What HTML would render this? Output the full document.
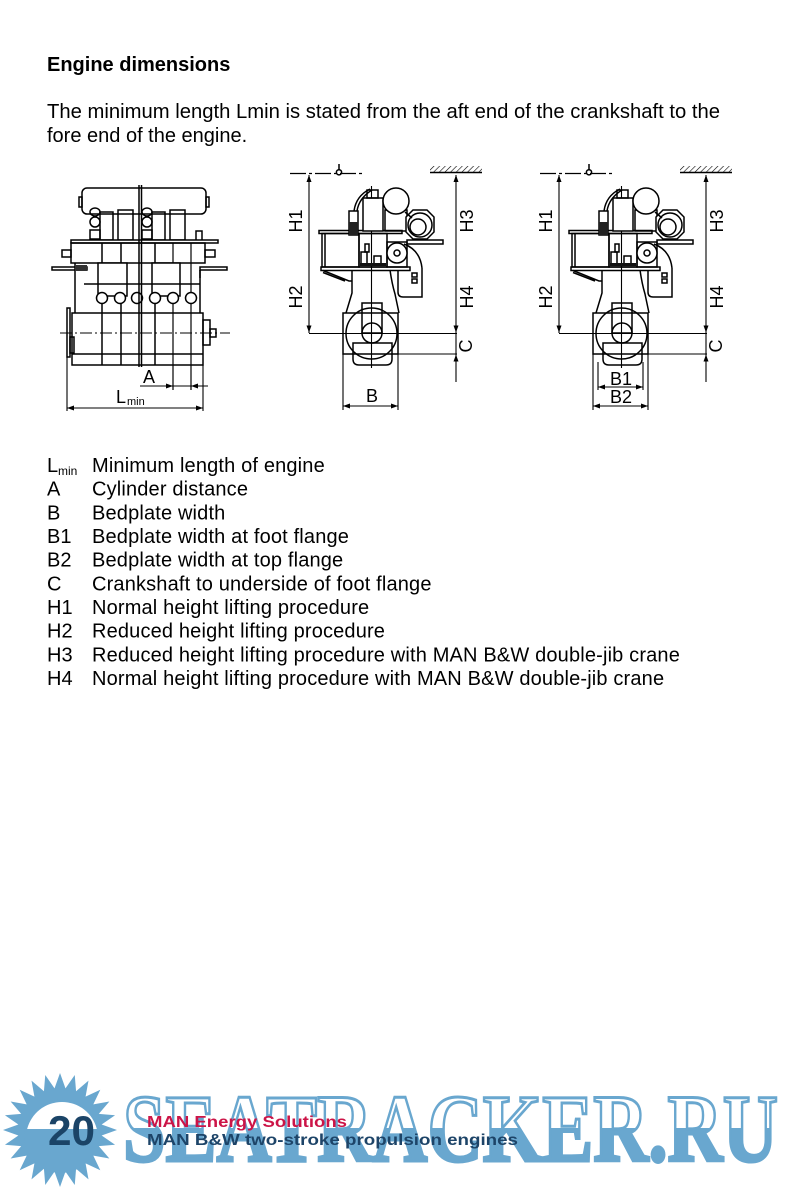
<!DOCTYPE html>
<html>
<head>
<meta charset="utf-8">
<style>
html,body{margin:0;padding:0;background:#fff;}
body{width:788px;height:1189px;overflow:hidden;position:relative;}
svg{position:absolute;left:0;top:0;}
text{font-family:"Liberation Sans",Arial,sans-serif;}
</style>
</head>
<body>
<svg width="788" height="1189" viewBox="0 0 788 1189" xmlns="http://www.w3.org/2000/svg">
<defs>
  <pattern id="hatch" width="4" height="4" patternUnits="userSpaceOnUse" patternTransform="rotate(45)">
    <line x1="0" y1="0" x2="0" y2="4" stroke="#000" stroke-width="1.2"/>
  </pattern>
  <linearGradient id="wm" gradientUnits="userSpaceOnUse" x1="0" y1="1095" x2="0" y2="1162">
    <stop offset="0.49" stop-color="#ffffff"/>
    <stop offset="0.49" stop-color="#69a7cf"/>
  </linearGradient>
  <g id="eng">
    <g fill="none" stroke="#000" stroke-width="1.5">
      <line x1="290" y1="173.5" x2="362" y2="173.5" stroke-width="1.2" stroke-dasharray="16,3,3,3"/>
      <line x1="339" y1="164" x2="339" y2="169.5"/>
      <circle cx="339" cy="172.3" r="2.6"/>
      <line x1="430" y1="172.5" x2="482" y2="172.5"/>
      <line x1="309" y1="175" x2="309" y2="333" stroke-width="1.1"/>
      <line x1="456" y1="175" x2="456" y2="382" stroke-width="1.1"/>
      <line x1="309" y1="333.5" x2="457" y2="333.5" stroke-width="1.1"/>
      <line x1="398" y1="354" x2="457" y2="354" stroke-width="1.1"/>
      <line x1="371.5" y1="186" x2="371.5" y2="368" stroke-width="1.1"/>
      <!-- bedplate -->
      <rect x="343" y="313" width="55" height="41"/>
      <path d="M353,343 V359 Q353,365 359,365 H386 Q392,365 392,359 V343 Z"/>
      <circle cx="371.5" cy="333.5" r="25.5"/>
      <rect x="362" y="303" width="20" height="30"/>
      <circle cx="372" cy="333" r="10"/>
      <!-- frame -->
      <path d="M352,270 V293 L346,313 M390,270 Q392,284 395,294 L399,313"/>
      <rect x="321" y="267" width="89" height="3.5"/>
      <path d="M323,270.5 L349,281 H352 M323,272.5 L345,281"/>
      <path d="M398,270 V292 Q398,297 403,297 H422 V268"/>
      <path d="M404,244 Q420,250 422,268"/>
      <rect x="412" y="273" width="5" height="4"/>
      <rect x="412" y="279" width="5" height="4"/>
      <!-- upper -->
      <rect x="319" y="230.5" width="83" height="3"/>
      <rect x="322" y="233.5" width="37" height="33.5"/>
      <line x1="325" y1="233.5" x2="325" y2="267"/>
      <rect x="359" y="233.5" width="28" height="33.5"/>
      <rect x="361" y="252" width="6" height="13"/>
      <rect x="365" y="244" width="4" height="8"/>
      <rect x="374" y="256" width="7" height="9"/>
      <rect x="387" y="242" width="20" height="25"/>
      <circle cx="397" cy="253" r="10" fill="#fff"/>
      <circle cx="397" cy="253" r="3"/>
      <rect x="407" y="240" width="36" height="4"/>
      <!-- valve column -->
      <rect x="363" y="198" width="20" height="33" fill="#fff"/>
      <rect x="367" y="190" width="11" height="8"/>
      <path d="M370,189 Q356,196 354,211 M372,190 Q359,198 357,211"/>
      <rect x="349" y="211" width="9" height="24"/>
      <!-- cooler box & circle -->
      <rect x="385" y="210" width="22" height="21"/>
      <circle cx="396" cy="201" r="13" fill="#fff"/>
      <!-- turbo -->
      <polygon points="413,210 427,210 434,217 434,232 427,239 413,239 406,232 406,217" fill="#fff"/>
      <circle cx="420" cy="225" r="12"/>
      <circle cx="418" cy="227" r="8"/>
      <line x1="405" y1="212" x2="412" y2="218"/>
    </g>
    <rect x="430" y="166" width="52" height="6" fill="url(#hatch)"/>
    <rect x="349" y="222" width="9" height="13" fill="#222"/>
    <rect x="360" y="263" width="26" height="3" fill="#111"/>
    <g fill="#000">
      <polygon points="309,175 306.5,182 311.5,182"/>
      <polygon points="309,332.5 306.5,325.5 311.5,325.5"/>
      <polygon points="456,175 453.5,182 458.5,182"/>
      <polygon points="456,332.5 453.5,325.5 458.5,325.5"/>
      <polygon points="456,354.5 453.5,361.5 458.5,361.5"/>
    </g>
  </g>
</defs>

<!-- Heading & paragraph -->
<text x="47" y="71" font-size="20" font-weight="bold" fill="#000">Engine dimensions</text>
<text x="47" y="118" font-size="20" fill="#000" textLength="673" lengthAdjust="spacingAndGlyphs">The minimum length Lmin is stated from the aft end of the crankshaft to the</text>
<text x="47" y="142" font-size="20" fill="#000">fore end of the engine.</text>

<!-- Diagram 1 -->
<g fill="none" stroke="#000" stroke-width="1.5">
  <rect x="82" y="188" width="124" height="26" rx="5" fill="#fff"/>
  <rect x="79" y="197" width="3" height="10"/>
  <rect x="206" y="197" width="3" height="10"/>
  <ellipse cx="95" cy="212" rx="5" ry="4"/>
  <ellipse cx="95" cy="222" rx="5" ry="5"/>
  <rect x="90" y="230" width="10" height="9"/>
  <rect x="100" y="212" width="13" height="28"/>
  <rect x="118" y="210" width="15" height="30"/>
  <ellipse cx="147" cy="212" rx="5" ry="4"/>
  <ellipse cx="147" cy="222" rx="5" ry="5"/>
  <rect x="142" y="230" width="10" height="9"/>
  <rect x="152" y="212" width="13" height="28"/>
  <rect x="170" y="210" width="15" height="30"/>
  <rect x="196" y="231" width="6" height="10"/>
  <rect x="71" y="240" width="147" height="3" fill="#fff"/>
  <rect x="71" y="243" width="134" height="20"/>
  <rect x="62" y="250" width="9" height="7"/>
  <rect x="205" y="250" width="10" height="7"/>
  <rect x="52" y="267" width="35" height="3"/>
  <rect x="200" y="267" width="27" height="3"/>
  <line x1="200" y1="270" x2="200" y2="278"/>
  <line x1="75" y1="263" x2="75" y2="313"/>
  <line x1="200" y1="270" x2="200" y2="313"/>
  <line x1="102" y1="243" x2="102" y2="365"/>
  <line x1="121" y1="243" x2="121" y2="365"/>
  <line x1="155" y1="243" x2="155" y2="365"/>
  <line x1="173" y1="243" x2="173" y2="390" stroke-width="1.2"/>
  <line x1="191" y1="243" x2="191" y2="390" stroke-width="1.2"/>
  <rect x="98" y="263" width="29" height="33" fill="#fff"/>
  <rect x="152" y="263" width="28" height="33" fill="#fff"/>
  <line x1="84" y1="284" x2="200" y2="284"/>
  <circle cx="102" cy="298" r="5.5" fill="#fff"/>
  <circle cx="120" cy="298" r="5.5" fill="#fff"/>
  <circle cx="137" cy="298" r="5.5" fill="#fff"/>
  <circle cx="155" cy="298" r="5.5" fill="#fff"/>
  <circle cx="173" cy="298" r="5.5" fill="#fff"/>
  <circle cx="191" cy="298" r="5.5" fill="#fff"/>
  <rect x="72" y="313" width="131" height="52"/>
  <line x1="72" y1="354" x2="203" y2="354"/>
  <rect x="67" y="308" width="3" height="49"/>
  <rect x="70" y="337" width="4" height="16"/>
  <rect x="203" y="320" width="7" height="25"/>
  <rect x="210" y="329" width="6" height="8"/>
  <line x1="139" y1="185" x2="139" y2="367"/>
  <line x1="141.5" y1="185" x2="141.5" y2="367"/>
  <line x1="60" y1="333" x2="230" y2="333" stroke-width="1.1" stroke-dasharray="12,3,2,3"/>
  <line x1="140" y1="386" x2="208" y2="386" stroke-width="1.1"/>
  <line x1="67" y1="357" x2="67" y2="411" stroke-width="1.1"/>
  <line x1="203" y1="365" x2="203" y2="411" stroke-width="1.1"/>
  <line x1="67" y1="408" x2="203" y2="408" stroke-width="1.1"/>
</g>
<rect x="75" y="265" width="12" height="6" fill="#333"/>
<g fill="#000">
  <polygon points="173,386 166,383.5 166,388.5"/>
  <polygon points="191,386 198,383.5 198,388.5"/>
  <polygon points="67,408 74,405.5 74,410.5"/>
  <polygon points="203,408 196,405.5 196,410.5"/>
</g>
<text x="143" y="383" font-size="18" fill="#000">A</text>
<text x="116" y="403" font-size="18" fill="#000">L</text>
<text x="127" y="405" font-size="11" fill="#000">min</text>

<!-- Diagram 2 -->
<use href="#eng"/>
<g fill="none" stroke="#000" stroke-width="1.1">
  <line x1="343" y1="354" x2="343" y2="410"/>
  <line x1="398" y1="354" x2="398" y2="410"/>
  <line x1="343" y1="406" x2="398" y2="406"/>
</g>
<g fill="#000">
  <polygon points="343,406 350,403.5 350,408.5"/>
  <polygon points="398,406 391,403.5 391,408.5"/>
</g>
<text x="372" y="402" font-size="18" text-anchor="middle" fill="#000">B</text>
<text transform="translate(302,221) rotate(-90)" font-size="18" text-anchor="middle" fill="#000">H1</text>
<text transform="translate(302,297) rotate(-90)" font-size="18" text-anchor="middle" fill="#000">H2</text>
<text transform="translate(473,221) rotate(-90)" font-size="18" text-anchor="middle" fill="#000">H3</text>
<text transform="translate(473,297) rotate(-90)" font-size="18" text-anchor="middle" fill="#000">H4</text>
<text transform="translate(472,346) rotate(-90)" font-size="18" text-anchor="middle" fill="#000">C</text>

<!-- Diagram 3 -->
<use href="#eng" transform="translate(250,0)"/>
<g fill="none" stroke="#000" stroke-width="1.1">
  <line x1="593" y1="354" x2="593" y2="410"/>
  <line x1="648" y1="354" x2="648" y2="410"/>
  <line x1="593" y1="406" x2="648" y2="406"/>
  <line x1="598" y1="362" x2="598" y2="390"/>
  <line x1="643" y1="362" x2="643" y2="390"/>
  <line x1="598" y1="387" x2="643" y2="387"/>
</g>
<g fill="#000">
  <polygon points="593,406 600,403.5 600,408.5"/>
  <polygon points="648,406 641,403.5 641,408.5"/>
  <polygon points="598,387 605,384.5 605,389.5"/>
  <polygon points="643,387 636,384.5 636,389.5"/>
</g>
<text x="621" y="385" font-size="18" text-anchor="middle" fill="#000">B1</text>
<text x="621" y="403" font-size="18" text-anchor="middle" fill="#000">B2</text>
<text transform="translate(552,221) rotate(-90)" font-size="18" text-anchor="middle" fill="#000">H1</text>
<text transform="translate(552,297) rotate(-90)" font-size="18" text-anchor="middle" fill="#000">H2</text>
<text transform="translate(723,221) rotate(-90)" font-size="18" text-anchor="middle" fill="#000">H3</text>
<text transform="translate(723,297) rotate(-90)" font-size="18" text-anchor="middle" fill="#000">H4</text>
<text transform="translate(722,346) rotate(-90)" font-size="18" text-anchor="middle" fill="#000">C</text>

<!-- Legend -->
<g font-size="20" fill="#000">
  <text x="47" y="472">L</text><text x="58" y="475" font-size="12">min</text>
  <g letter-spacing="0.16">
  <text x="92" y="472">Minimum length of engine</text>
  <text x="92" y="495.7">Cylinder distance</text>
  <text x="92" y="519.3">Bedplate width</text>
  <text x="92" y="543">Bedplate width at foot flange</text>
  <text x="92" y="566.7">Bedplate width at top flange</text>
  <text x="92" y="590.3">Crankshaft to underside of foot flange</text>
  <text x="92" y="614">Normal height lifting procedure</text>
  <text x="92" y="637.7">Reduced height lifting procedure</text>
  <text x="92" y="661.3">Reduced height lifting procedure with MAN B&amp;W double-jib crane</text>
  <text x="92" y="685">Normal height lifting procedure with MAN B&amp;W double-jib crane</text>
  </g>
  <text x="47" y="495.7">A</text>
  <text x="47" y="519.3">B</text>
  <text x="47" y="543">B1</text>
  <text x="47" y="566.7">B2</text>
  <text x="47" y="590.3">C</text>
  <text x="47" y="614">H1</text>
  <text x="47" y="637.7">H2</text>
  <text x="47" y="661.3">H3</text>
  <text x="47" y="685">H4</text>
</g>

<!-- Footer -->
<polygon fill="#69a7cf" points="117,1130 101.64,1135.48 115.06,1144.75 98.8,1146.07 109.36,1158.5 93.32,1155.57 100.3,1170.3 85.57,1163.32 88.5,1179.36 76.07,1168.8 74.75,1185.06 65.48,1171.64 60,1187 54.52,1171.64 45.25,1185.06 43.93,1168.8 31.5,1179.36 34.43,1163.32 19.7,1170.3 26.68,1155.57 10.64,1158.5 21.2,1146.07 4.94,1144.75 18.36,1135.48 3,1130 18.36,1124.52 4.94,1115.25 21.2,1113.93 10.64,1101.5 26.68,1104.43 19.7,1089.7 34.43,1096.68 31.5,1080.64 43.93,1091.2 45.25,1074.94 54.52,1088.36 60,1073 65.48,1088.36 74.75,1074.94 76.07,1091.2 88.5,1080.64 85.57,1096.68 100.3,1089.7 93.32,1104.43 109.36,1101.5 98.8,1113.93 115.06,1115.25 101.64,1124.52"/>
<circle cx="61" cy="1136" r="37" fill="#69a7cf"/>
<path d="M27.14,1129 A36,36 0 0 1 96.86,1129 Z" fill="#fff"/>
<text x="123" y="1161" font-size="96" font-weight="bold" fill="url(#wm)" stroke="#69a7cf" stroke-width="3" textLength="655" lengthAdjust="spacingAndGlyphs" style="font-family:'Liberation Serif',serif">SEATRACKER.RU</text>
<text x="48" y="1145" font-size="42" font-weight="bold" fill="#1b4467" textLength="47" lengthAdjust="spacingAndGlyphs">20</text>
<text x="147" y="1127" font-size="16" font-weight="bold" fill="#cc1447" textLength="200" lengthAdjust="spacingAndGlyphs">MAN Energy Solutions</text>
<text x="147" y="1145" font-size="16" font-weight="bold" fill="#1d4468" textLength="371" lengthAdjust="spacingAndGlyphs">MAN B&amp;W two-stroke propulsion engines</text>
</svg>
</body>
</html>
